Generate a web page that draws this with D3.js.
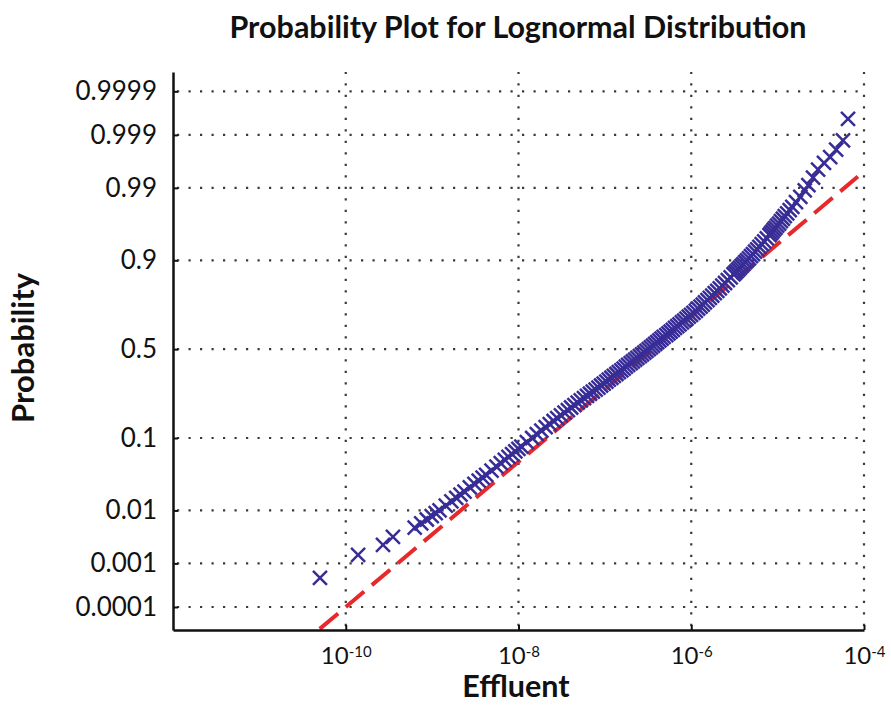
<!DOCTYPE html>
<html>
<head>
<meta charset="utf-8">
<script src="https://cdn.jsdelivr.net/npm/d3@7"></script>
<style>
  html, body { margin: 0; padding: 0; background: #ffffff; }
  svg { display: block; }
  text { font-family: Lato, "Open Sans", sans-serif; fill: #111; }
</style>
</head>
<body>
<div id="chart"></div>
<script>
// ---------------- data ----------------
const probTicks = [0.0001, 0.001, 0.01, 0.1, 0.5, 0.9, 0.99, 0.999, 0.9999];
const probTickLabels = ["0.0001", "0.001", "0.01", "0.1", "0.5", "0.9", "0.99", "0.999", "0.9999"];
const xTicks = [1e-10, 1e-8, 1e-6, 1e-4];
const xTickExponents = ["-10", "-8", "-6", "-4"];
const xDomain = [1e-12, 1e-4];
const yDomain = [2.55e-5, 0.999968];

const effluent = [
  5.03e-11, 1.39e-10, 2.70e-10, 3.52e-10,
  6.28e-10, 7.47e-10, 8.68e-10, 9.89e-10, 1.10e-9, 1.22e-9, 1.44e-9, 1.67e-9, 1.90e-9, 2.13e-9,
  2.37e-9, 2.73e-9, 3.09e-9, 3.46e-9, 3.84e-9, 4.22e-9, 4.87e-9, 5.55e-9, 6.23e-9, 6.95e-9,
  7.66e-9, 8.42e-9, 9.19e-9, 9.98e-9, 1.08e-8, 1.25e-8, 1.44e-8, 1.63e-8, 1.84e-8, 2.06e-8,
  2.30e-8, 2.55e-8, 2.81e-8, 3.10e-8, 3.41e-8, 3.73e-8, 4.07e-8, 4.44e-8, 4.84e-8, 5.26e-8,
  5.73e-8, 6.21e-8, 6.72e-8, 7.25e-8, 7.82e-8, 8.42e-8, 9.04e-8, 9.69e-8, 1.04e-7, 1.11e-7,
  1.19e-7, 1.27e-7, 1.36e-7, 1.45e-7, 1.55e-7, 1.65e-7, 1.75e-7, 1.86e-7, 1.99e-7, 2.11e-7,
  2.24e-7, 2.38e-7, 2.54e-7, 2.69e-7, 2.86e-7, 3.03e-7, 3.22e-7, 3.41e-7, 3.61e-7, 3.82e-7,
  4.04e-7, 4.28e-7, 4.53e-7, 4.79e-7, 5.14e-7, 5.45e-7, 5.77e-7, 6.12e-7, 6.49e-7, 6.90e-7,
  7.32e-7, 7.79e-7, 8.27e-7, 8.80e-7, 9.35e-7, 9.94e-7, 1.06e-6, 1.13e-6, 1.20e-6, 1.28e-6,
  1.36e-6, 1.44e-6, 1.54e-6, 1.64e-6, 1.75e-6, 1.87e-6, 2.00e-6, 2.14e-6, 2.29e-6, 2.46e-6,
  2.65e-6, 2.86e-6, 3.09e-6, 3.23e-6, 3.36e-6, 3.51e-6, 3.67e-6, 3.84e-6, 4.02e-6, 4.22e-6,
  4.42e-6, 4.66e-6, 4.91e-6, 5.18e-6, 5.48e-6, 5.80e-6, 6.15e-6, 6.54e-6, 6.99e-6, 7.50e-6,
  8.05e-6, 8.34e-6, 8.68e-6, 9.04e-6, 9.44e-6, 9.87e-6, 1.04e-5, 1.09e-5, 1.15e-5, 1.21e-5,
  1.29e-5, 1.38e-5, 1.48e-5, 1.63e-5, 1.83e-5, 2.06e-5, 2.27e-5,
  2.57e-5, 2.94e-5, 3.44e-5, 4.06e-5, 4.76e-5, 5.71e-5, 6.53e-5
];
const probability = [
  0.000483, 0.0015, 0.00237, 0.00337,
  0.005, 0.006, 0.007, 0.008, 0.009, 0.010, 0.012, 0.014, 0.016, 0.018,
  0.020, 0.023, 0.026, 0.029, 0.032, 0.035, 0.04, 0.045, 0.05, 0.055,
  0.06, 0.065, 0.07, 0.075, 0.08, 0.09, 0.10, 0.11, 0.12, 0.13,
  0.14, 0.15, 0.16, 0.17, 0.18, 0.19, 0.20, 0.21, 0.22, 0.23,
  0.24, 0.25, 0.26, 0.27, 0.28, 0.29, 0.30, 0.31, 0.32, 0.33,
  0.34, 0.35, 0.36, 0.37, 0.38, 0.39, 0.40, 0.41, 0.42, 0.43,
  0.44, 0.45, 0.46, 0.47, 0.48, 0.49, 0.50, 0.51, 0.52, 0.53,
  0.54, 0.55, 0.56, 0.57, 0.58, 0.59, 0.60, 0.61, 0.62, 0.63,
  0.64, 0.65, 0.66, 0.67, 0.68, 0.69, 0.70, 0.71, 0.72, 0.73,
  0.74, 0.75, 0.76, 0.77, 0.78, 0.79, 0.80, 0.81, 0.82, 0.83,
  0.84, 0.85, 0.86, 0.865, 0.87, 0.875, 0.88, 0.885, 0.89, 0.895,
  0.90, 0.905, 0.91, 0.915, 0.92, 0.925, 0.93, 0.935, 0.94, 0.945,
  0.95, 0.9525, 0.955, 0.9575, 0.96, 0.9625, 0.965, 0.9675, 0.97, 0.9725,
  0.975, 0.9775, 0.98, 0.983, 0.986, 0.989, 0.991,
  0.9933, 0.9952, 0.9964, 0.9972, 0.9980, 0.9987, 0.99955
];

// fitted lognormal reference line (end points)
const fitEffluent = [5.0e-11, 8.5e-5];
const fitProbability = [2.73e-5, 0.9936];

// ---------------- helpers ----------------
// inverse standard normal CDF (Acklam) used to build the probability scale
function probit(p) {
  const a = [-3.969683028665376e+01, 2.209460984245205e+02, -2.759285104469687e+02, 1.383577518672690e+02, -3.066479806614716e+01, 2.506628277459239e+00];
  const b = [-5.447609879822406e+01, 1.615858368580409e+02, -1.556989798598866e+02, 6.680131188771972e+01, -1.328068155288572e+01];
  const c = [-7.784894002430293e-03, -3.223964580411365e-01, -2.400758277161838e+00, -2.549732539343734e+00, 4.374664141464968e+00, 2.938163982698783e+00];
  const d = [7.784695709041462e-03, 3.224671290700398e-01, 2.445134137142996e+00, 3.754408661907416e+00];
  const pl = 0.02425, ph = 1 - pl;
  let q, r;
  if (p < pl) {
    q = Math.sqrt(-2 * Math.log(p));
    return (((((c[0]*q+c[1])*q+c[2])*q+c[3])*q+c[4])*q+c[5]) / ((((d[0]*q+d[1])*q+d[2])*q+d[3])*q+1);
  }
  if (p <= ph) {
    q = p - 0.5; r = q * q;
    return (((((a[0]*r+a[1])*r+a[2])*r+a[3])*r+a[4])*r+a[5])*q / (((((b[0]*r+b[1])*r+b[2])*r+b[3])*r+b[4])*r+1);
  }
  q = Math.sqrt(-2 * Math.log(1 - p));
  return -(((((c[0]*q+c[1])*q+c[2])*q+c[3])*q+c[4])*q+c[5]) / ((((d[0]*q+d[1])*q+d[2])*q+d[3])*q+1);
}

// ---------------- layout ----------------
const W = 891, H = 725;
const plot = { left: 173, right: 864, top: 72, bottom: 630 };

const svg = d3.select("#chart").append("svg")
  .attr("width", W).attr("height", H)
  .attr("viewBox", `0 0 ${W} ${H}`);

svg.append("rect").attr("width", W).attr("height", H).attr("fill", "#ffffff");

const x = d3.scaleLog().domain(xDomain).range([plot.left, plot.right]);
const z = d3.scaleLinear().domain(yDomain.map(probit)).range([plot.bottom, plot.top]);
const y = p => z(probit(p));

// ---------------- grid ----------------
const grid = svg.append("g").attr("class", "grid")
  .attr("stroke", "#3a3a3a").attr("stroke-width", 2.2)
  .attr("stroke-dasharray", "2.2 9.3").attr("fill", "none");

grid.selectAll("line.h").data(probTicks).join("line").attr("class", "h")
  .attr("x1", plot.left + 4).attr("x2", plot.right)
  .attr("y1", d => y(d)).attr("y2", d => y(d));

grid.selectAll("line.v").data(xTicks).join("line").attr("class", "v")
  .attr("x1", d => x(d)).attr("x2", d => x(d))
  .attr("y1", plot.bottom - 4).attr("y2", plot.top);

// ---------------- fit line ----------------
const fitPts = fitEffluent.map((e, i) => [x(e), y(fitProbability[i])]);
svg.append("path")
  .attr("d", d3.line()(fitPts))
  .attr("fill", "none")
  .attr("stroke", "#e8292b")
  .attr("stroke-width", 4)
  .attr("stroke-dasharray", "24 10");

// ---------------- data markers ----------------
const pts = effluent.map((e, i) => ({ e, p: probability[i] }));
const s = 7;
svg.append("g").attr("class", "markers")
  .attr("stroke", "#382d96").attr("stroke-width", 2.5).attr("fill", "none")
  .selectAll("path").data(pts).join("path")
  .attr("transform", d => `translate(${x(d.e)},${y(d.p)})`)
  .attr("d", `M${-s},${-s}L${s},${s}M${-s},${s}L${s},${-s}`);

// ---------------- axes ----------------
const yAxis = d3.axisLeft(z)
  .tickValues(probTicks.map(probit))
  .tickFormat((d, i) => probTickLabels[i])
  .tickSize(-5).tickSizeOuter(0).tickPadding(16);

const gy = svg.append("g").attr("transform", `translate(${plot.left},0)`).call(yAxis);
gy.select(".domain").attr("stroke", "#111").attr("stroke-width", 2.5);
gy.selectAll(".tick line").attr("stroke", "#111").attr("stroke-width", 2);
gy.selectAll(".tick text")
  .attr("font-family", "Lato, 'Open Sans', sans-serif")
  .attr("font-size", 26).attr("fill", "#1a1a1a");

const xAxis = d3.axisBottom(x)
  .tickValues(xTicks)
  .tickFormat(() => "")
  .tickSize(-5).tickSizeOuter(0).tickPadding(17);

const gx = svg.append("g").attr("transform", `translate(0,${plot.bottom})`).call(xAxis);
gx.select(".domain").attr("stroke", "#111").attr("stroke-width", 2.5);
gx.selectAll(".tick line").attr("stroke", "#111").attr("stroke-width", 2);
gx.selectAll(".tick text").each(function (d, i) {
  const t = d3.select(this)
    .attr("font-family", "Lato, 'Open Sans', sans-serif")
    .attr("font-size", 24).attr("fill", "#1a1a1a");
  t.text(null);
  t.append("tspan").text("10");
  t.append("tspan").attr("dy", "-0.5em").attr("font-size", 15).text(xTickExponents[i]);
});

// ---------------- titles ----------------
svg.append("text")
  .attr("x", 518).attr("y", 38)
  .attr("text-anchor", "middle")
  .attr("font-size", 30.5).attr("font-weight", "bold")
  .text("Probability Plot for Lognormal Distribution");

svg.append("text")
  .attr("x", 516).attr("y", 697)
  .attr("text-anchor", "middle")
  .attr("font-size", 30.5).attr("font-weight", "bold")
  .text("Effluent");

svg.append("text")
  .attr("transform", "translate(34,348) rotate(-90)")
  .attr("text-anchor", "middle")
  .attr("font-size", 31).attr("font-weight", "bold")
  .text("Probability");
</script>
</body>
</html>
